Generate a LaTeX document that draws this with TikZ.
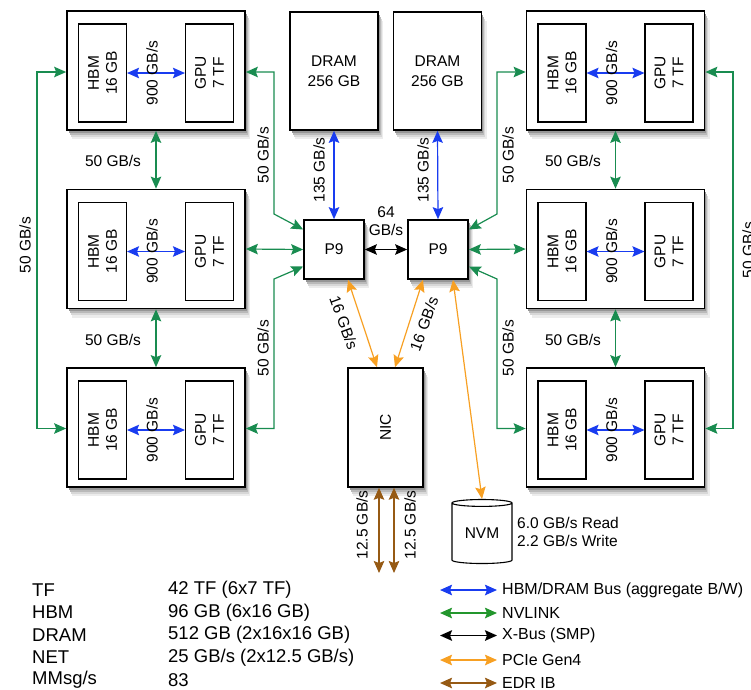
\documentclass[tikz,border=0pt]{standalone}
\usepackage{fontspec}
\setmainfont{Liberation Sans}
\usetikzlibrary{arrows.meta,shapes.geometric,calc}
\definecolor{cblue}{RGB}{25,60,240}
\definecolor{cgreen}{RGB}{25,140,80}
\definecolor{lgreen}{RGB}{35,150,45}
\definecolor{corange}{RGB}{247,160,35}
\definecolor{cbrown}{RGB}{150,90,20}
\definecolor{shA}{RGB}{236,236,236}
\definecolor{shB}{RGB}{215,215,215}
\definecolor{shC}{RGB}{185,185,185}
\definecolor{shD}{RGB}{150,150,150}
\begin{document}
\begin{tikzpicture}[x=1pt,y=-1pt,
  >={Stealth[length=12pt,width=10.5pt,inset=2pt]},
  outer/.style={draw,line width=1.7pt,fill=white,minimum width=178pt,minimum height=119pt,inner sep=0pt},
  inner/.style={draw,line width=1.1pt,fill=white,minimum width=48pt,minimum height=98pt,inner sep=0pt},
  dram/.style={draw,line width=1.7pt,fill=white,minimum width=88pt,minimum height=118pt,inner sep=0pt,align=center,font=\fontsize{15.5}{20}\selectfont},
  pnine/.style={draw,line width=1.7pt,fill=white,minimum width=60pt,minimum height=59pt,inner sep=0pt,font=\fontsize{15.5}{18}\selectfont},
  shadowA/.style={shape=rectangle,draw=none,inner sep=0pt,fill=shA,xshift=5pt,yshift=-9pt},
  shadowB/.style={shape=rectangle,draw=none,inner sep=0pt,fill=shB,xshift=3.5pt,yshift=-6.5pt},
  shadowC/.style={shape=rectangle,draw=none,inner sep=0pt,fill=shC,xshift=2.5pt,yshift=-4.5pt},
  shadowD/.style={shape=rectangle,draw=none,inner sep=0pt,fill=shD,xshift=1.5pt,yshift=-2.5pt},
  lab/.style={font=\fontsize{15.5}{18}\selectfont,align=center,inner sep=0pt},
  rlab/.style={lab,rotate=90},
  tab/.style={font=\fontsize{18.5}{20}\selectfont,anchor=west,inner sep=0pt},
  leg/.style={font=\fontsize{16}{18}\selectfont,anchor=west,inner sep=0pt},
  bl/.style={<->,draw=cblue,line width=1.2pt},
  gr/.style={<->,draw=cgreen,line width=1.2pt},
  bk/.style={<->,draw=black,line width=1.2pt},
  orr/.style={<->,draw=corange,line width=1.2pt},
  br/.style={<->,draw=cbrown,line width=1.4pt}
]
\useasboundingbox (0,0) rectangle (751,689);

% soft drop shadows (drawn first, under the boxes)
\foreach \cx/\cy/\ww/\hh in {156/70.5/178/119, 156/249/178/119, 156/427.5/178/119,
                           615.5/70.5/178/119, 615.5/249/178/119, 615.5/427.5/178/119,
                           334/71/88/118, 437.5/71/88/118, 334/249.5/60/59, 438/249.5/60/59,
                           385.5/427.5/75/119}{
  \node[shadowA,minimum width=\ww pt,minimum height=\hh pt] at (\cx,\cy) {};
  \node[shadowB,minimum width=\ww pt,minimum height=\hh pt] at (\cx,\cy) {};
  \node[shadowC,minimum width=\ww pt,minimum height=\hh pt] at (\cx,\cy) {};
  \node[shadowD,minimum width=\ww pt,minimum height=\hh pt] at (\cx,\cy) {};
}

% GPU boxes
\foreach \n/\x/\y in {g1/156/70.5, g2/156/249, g3/156/427.5, r1/615.5/70.5, r2/615.5/249, r3/615.5/427.5}{
  \node[outer] (\n) at (\x,\y) {};
  \node[inner] (\n h) at (\x-53.5,\y+2.5) {};
  \node[inner] (\n u) at (\x+53.5,\y+2.5) {};
  \node[rlab] at (\n h) {HBM\\16 GB};
  \node[rlab] at (\n u) {GPU\\7 TF};
  \draw[bl] (\n h.east) -- (\n u.west);
  \node[rlab,yshift=4pt] at ($(\n h)!0.5!(\n u)$) {900 GB/s};
}

% DRAM and P9
\node[dram] (d1) at (334,71) {DRAM\\256 GB};
\node[dram] (d2) at (437.5,71) {DRAM\\256 GB};
\node[pnine] (p1) at (334,249.5) {P9};
\node[pnine] (p2) at (438,249.5) {P9};

% NIC
\node[draw,line width=1.5pt,fill=white,minimum width=75pt,minimum height=119pt,inner sep=0pt] (nic) at (385.5,427.5) {};
\node[rlab] at (nic) {NIC};

% NVM
\node[cylinder,shape border rotate=90,draw,line width=1.1pt,fill=white,aspect=0.2,
      minimum width=60pt,minimum height=64pt,inner sep=0pt,font=\fontsize{15.5}{18}\selectfont] (nvm) at (482,533.5) {NVM};
\node[lab,anchor=west,align=left] at (517,532) {6.0 GB/s Read\\2.2 GB/s Write};

% DRAM buses
\draw[bl] (d1.south) -- (p1.north);
\draw[bl] (d2.south) -- (p2.north);
\node[rlab] at (319,170) {135 GB/s};
\node[rlab] at (423,170) {135 GB/s};

% X-Bus
\draw[bk] (p1.east) -- (p2.west);
\node[lab] at (386,221) {64\\GB/s};

% NVLINK vertical
\draw[gr] (g1.south) -- (g2.north);
\draw[gr] (g2.south) -- (g3.north);
\draw[gr] (r1.south) -- (r2.north);
\draw[gr] (r2.south) -- (r3.north);
\node[lab] at (113,161) {50 GB/s};
\node[lab] at (113,340) {50 GB/s};
\node[lab] at (573,161) {50 GB/s};
\node[lab] at (573,340) {50 GB/s};

% NVLINK outer loops
\coordinate (lt) at (37,72);
\coordinate (rt) at (733,72);
\draw[gr] ([yshift=-1.5pt]g1.west) -- (lt) |- ([yshift=-1pt]g3.west);
\draw[gr] ([yshift=-1.5pt]r1.east) -- (rt) |- ([yshift=-1pt]r3.east);
\node[rlab] at (25,245) {50 GB/s};
\node[rlab] at (748,250) {50 GB/s};

% NVLINK to P9
\coordinate (a1) at (274,214);
\coordinate (a2) at (274,279);
\coordinate (b1) at (497,214);
\coordinate (b2) at (497,279);
\draw[gr] ([yshift=-1.5pt]g1.east) -| (a1) -- ([yshift=20pt]p1.west);
\draw[gr] (g2.east) -- (p1.west);
\draw[gr] ([yshift=-1pt]g3.east) -| (a2) -- ([yshift=-17pt]p1.west);
\draw[gr] ([yshift=-1.5pt]r1.west) -| (b1) -- ([yshift=20pt]p2.east);
\draw[gr] (r2.west) -- (p2.east);
\draw[gr] ([yshift=-1pt]r3.west) -| (b2) -- ([yshift=-17pt]p2.east);
\node[rlab] at (263,155) {50 GB/s};
\node[rlab] at (263,348) {50 GB/s};
\node[rlab] at (508,155) {50 GB/s};
\node[rlab] at (508,348) {50 GB/s};

% PCIe
\draw[orr] ([xshift=14pt]p1.south) -- ([xshift=-8.5pt]nic.north);
\draw[orr] ([xshift=-15pt]p2.south) -- ([xshift=9.5pt]nic.north);
\draw[orr] ([xshift=15pt]p2.south) -- (nvm.north);
\node[lab,rotate=-70] at (344,323) {16 GB/s};
\node[lab,rotate=70] at (424,324) {16 GB/s};

% EDR IB
\coordinate (e1) at (379,573);
\coordinate (e2) at (394,573);
\draw[br] (nic.south -| e1) -- (e1);
\draw[br] (nic.south -| e2) -- (e2);
\node[rlab] at (362,525) {12.5 GB/s};
\node[rlab] at (410,525) {12.5 GB/s};

% table
\node[tab] at (32,590) {TF};
\node[tab] at (32,612.5) {HBM};
\node[tab] at (32,635) {DRAM};
\node[tab] at (32,657.5) {NET};
\node[tab] at (32,680) {MMsg/s};
\node[tab] at (168,590) {42 TF (6x7 TF)};
\node[tab] at (168,612.5) {96 GB (6x16 GB)};
\node[tab] at (168,635) {512 GB (2x16x16 GB)};
\node[tab] at (168,657.5) {25 GB/s (2x12.5 GB/s)};
\node[tab] at (168,680) {83};

% legend
\foreach \i/\yy/\t in {1/590/{HBM/DRAM Bus (aggregate B/W)},2/613/{NVLINK},3/635.5/{X-Bus (SMP)},4/660/{PCIe Gen4},5/683/{EDR IB}}{
  \coordinate (la\i) at (440,\yy);
  \coordinate (lb\i) at (497,\yy);
  \node[leg] (lt\i) at (502,\yy) {\t};
}
\draw[bl,line width=1.8pt] (la1) -- (lb1);
\draw[<->,draw=lgreen,line width=1.8pt] (la2) -- (lb2);
\draw[bk,line width=1.8pt] (la3) -- (lb3);
\draw[orr,line width=1.8pt] (la4) -- (lb4);
\draw[br,line width=1.8pt] (la5) -- (lb5);
\end{tikzpicture}
\end{document}
